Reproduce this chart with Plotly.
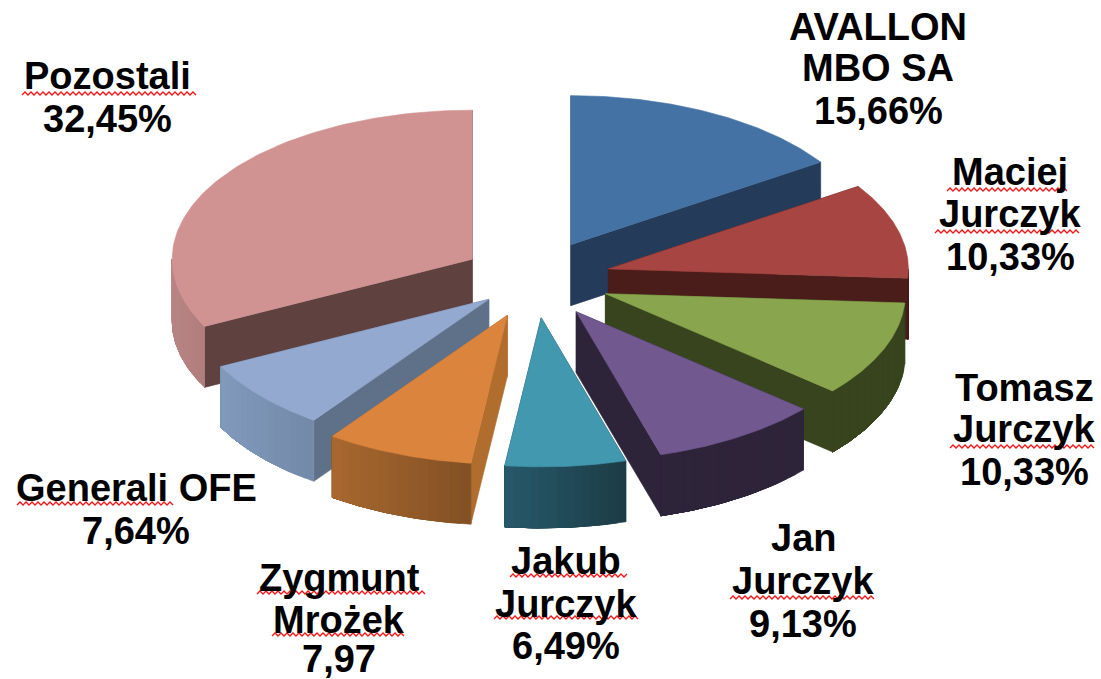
import numpy as np
import plotly.graph_objects as go

# ---- data ----
names = ["AVALLON MBO SA", "Maciej Jurczyk", "Tomasz Jurczyk", "Jan Jurczyk",
         "Jakub Jurczyk", "Zygmunt Mrożek", "Generali OFE", "Pozostali"]
values = [15.66, 10.33, 10.33, 9.13, 6.49, 7.97, 7.64, 32.45]

# ---- colours: top face, radial wall, outer wall left end, outer wall right end ----
top_colors = ["#4472A5", "#A64542", "#89A54E", "#71588F", "#4198AF", "#DB843D", "#93A9CF", "#D19392"]
side_colors = ["#243B5A", "#4A1C1A", "#37441E", "#2E243A", "#1D3E48", "#B06D2E", "#5F7089", "#5F4140"]
wall_left = ["#243B5A", "#4A1C1A", "#37441E", "#2E243A", "#27596A", "#A8682F", "#8199BC", "#B98585"]
wall_right = ["#243B5A", "#4A1C1A", "#37441E", "#2E243A", "#1C3C46", "#825024", "#7389A8", "#B07D7C"]

# ---- projection ----
CX, CY = 535.0, 279.0
RX, RY = 300.0, 149.0
PULL_X, PULL_Y = 76.0, 39.0
pull_scale = [1, 1, 1, 1, 1, 1, 0.8, 0.97]
DEPTH = 61.0
draw_order = [0, 7, 1, 2, 6, 3, 5, 4]

# ---- labels: one list per slice ----
label_lines = [
    ["AVALLON", "MBO SA", "15,66%"], ["Maciej", "Jurczyk", "10,33%"],
    ["Tomasz", "Jurczyk", "10,33%"], ["Jan", "Jurczyk", "9,13%"],
    ["Jakub", "Jurczyk", "6,49%"], ["Zygmunt", "Mrożek", "7,97"],
    ["Generali OFE", "7,64%"], ["Pozostali", "32,45%"],
]
label_x = [878, 1010, 1024, 803, 566, 339, 136, 107]
label_y = [[27, 68, 111], [172, 214, 257], [388, 429, 472], [538, 581, 624],
           [561, 604, 646], [578, 620, 659], [488, 531], [76, 119]]
# spell-check underlines: x0, x1, y
squiggles = [(22, 198, 93), (947, 1068, 189), (935, 1080, 231), (950, 1095, 446),
             (730, 875, 597), (510, 628, 575), (494, 638, 617), (257, 425, 592),
             (272, 406, 634), (17, 175, 503)]

fig = go.Figure()


def poly(xs, ys, color, name):
    fig.add_trace(go.Scatter(x=xs, y=ys, mode="lines", fill="toself", fillcolor=color,
                             line=dict(color=color, width=0.6), hoverinfo="skip",
                             name=name, showlegend=False))


def mix(c1, c2, f):
    a = [int(c1[i:i + 2], 16) for i in (1, 3, 5)]
    b = [int(c2[i:i + 2], 16) for i in (1, 3, 5)]
    return "rgb(%d,%d,%d)" % tuple(round(p + (q - p) * f) for p, q in zip(a, b))


ends = np.cumsum(values) / np.sum(values) * 2 * np.pi
starts = np.concatenate([[0], ends[:-1]])

for i in draw_order:
    t0, t1 = starts[i], ends[i]
    mid = (t0 + t1) / 2
    ax = CX + pull_scale[i] * PULL_X * np.sin(mid)
    ay = CY - pull_scale[i] * PULL_Y * np.cos(mid)
    pt = lambda t: (ax + RX * np.sin(t), ay - RY * np.cos(t))
    # radial walls
    for t in (t0, t1):
        ex, ey = pt(t)
        poly([ax, ex, ex, ax, ax], [ay, ey, ey + DEPTH, ay + DEPTH, ay], side_colors[i], names[i])
    # outer wall (front half only): stepped gradient, each step covers the rest of the wall
    w0, w1 = max(t0, np.pi / 2), min(t1, 3 * np.pi / 2)
    if w1 > w0:
        n = 14
        edges = np.linspace(w0, w1, n + 1)
        xa, xb = pt(w0)[0], pt(w1)[0]
        for k in range(n):
            ts = np.linspace(edges[k], w1, 40)
            xs, ys = pt(ts)
            xm = pt((edges[k] + edges[k + 1]) / 2)[0]
            f = (xm - min(xa, xb)) / max(abs(xb - xa), 1e-6)
            poly(np.r_[xs, xs[::-1], xs[0]], np.r_[ys, ys[::-1] + DEPTH, ys[0]],
                 mix(wall_left[i], wall_right[i], f), names[i])
    # top face
    ts = np.linspace(t0, t1, 90)
    xs, ys = pt(ts)
    poly(np.r_[ax, xs, ax], np.r_[ay, ys, ay], top_colors[i], names[i])

# red wavy underlines
for x0, x1, y in squiggles:
    xs = np.arange(x0, x1 + 1, 3.0)
    ys = y + np.where(np.arange(len(xs)) % 2 == 0, 2, -1)
    fig.add_trace(go.Scatter(x=xs, y=ys, mode="lines", line=dict(color="#F01818", width=1.4),
                             hoverinfo="skip", showlegend=False))

for lines, x, ys in zip(label_lines, label_x, label_y):
    for line, y in zip(lines, ys):
        fig.add_annotation(x=x, y=y, text=line, showarrow=False, xanchor="center", yanchor="middle",
                           font=dict(family="Liberation Sans", size=38, color="#000000", weight="bold"))

fig.update_xaxes(range=[0, 1101], visible=False, fixedrange=True)
fig.update_yaxes(range=[679, 0], visible=False, fixedrange=True)
fig.update_layout(width=1101, height=679, margin=dict(l=0, r=0, t=0, b=0),
                  paper_bgcolor="white", plot_bgcolor="white", showlegend=False)
fig.write_html("out.html", post_script="document.body.style.margin='0';",
               config={"displayModeBar": False})
